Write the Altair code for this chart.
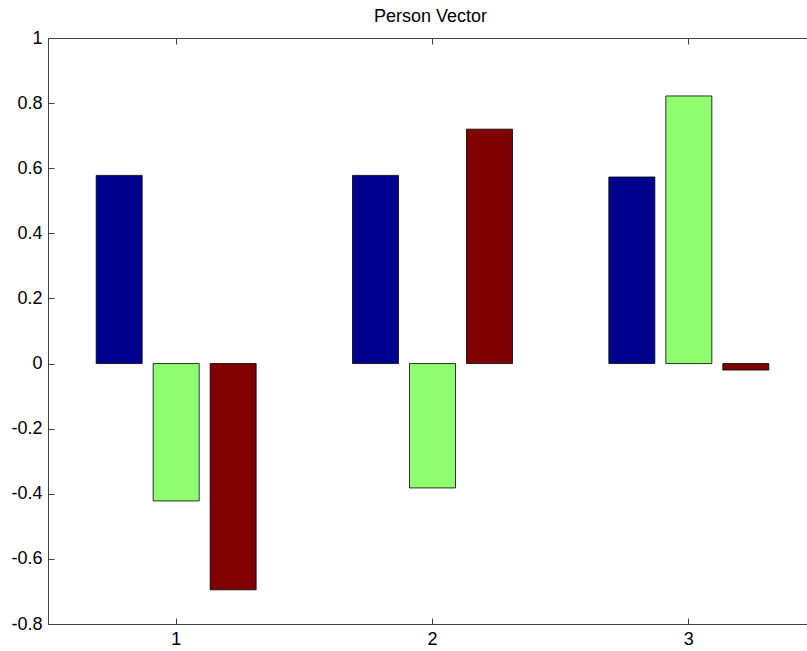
import altair as alt
import pandas as pd

groups = [1, 2, 3]
series = ["A", "B", "C"]
s1 = [0.578, 0.578, 0.573]
s2 = [-0.422, -0.382, 0.822]
s3 = [-0.695, 0.720, -0.020]
colors = ["#00008F", "#8FFF70", "#800000"]
yticks = [-0.8, -0.6, -0.4, -0.2, 0, 0.2, 0.4, 0.6, 0.8, 1]

rows = []
for i, g in enumerate(groups):
    for s, vals in zip(series, [s1, s2, s3]):
        rows.append({"group": g, "series": s, "value": vals[i]})
df = pd.DataFrame(rows)

font = "Liberation Sans"
# the plotted x range runs past the right edge of the picture, as in the original
xscale = alt.Scale(paddingInner=0.333, paddingOuter=0.1665, range=[0, 769])
yscale = alt.Scale(domain=[-0.8, 1], nice=False, zero=False)
line_col = "#404040"

base = alt.Chart(df)

bars = base.mark_bar(stroke="black", strokeWidth=0.8).encode(
    x=alt.X("group:O", scale=xscale,
            axis=alt.Axis(orient="bottom", title=None, labelAngle=0, ticks=False,
                          domain=True, domainColor=line_col, grid=False, labelPadding=6,
                          labelFontSize=18, labelFont=font, labelColor="black")),
    xOffset=alt.XOffset("series:N", sort=series,
                        scale=alt.Scale(paddingInner=0.193, paddingOuter=0.0965)),
    y=alt.Y("value:Q", scale=yscale,
            axis=alt.Axis(orient="left", title=None, values=yticks, ticks=False,
                          domain=True, domainColor=line_col, grid=False, labelPadding=6,
                          labelFontSize=18, labelFont=font, labelColor="black",
                          labelExpr="'' + datum.value")),
    y2=alt.datum(0),
    color=alt.Color("series:N", scale=alt.Scale(domain=series, range=colors), legend=None),
)

tick_axis = dict(title=None, labels=False, domain=False, grid=False, ticks=True,
                 tickSize=6, offset=-6, tickColor=line_col, tickWidth=1)

ticks_bl = base.mark_point(opacity=0).encode(
    x=alt.X("group:O", scale=xscale, axis=alt.Axis(orient="bottom", **tick_axis)),
    y=alt.Y("value:Q", scale=yscale, axis=alt.Axis(orient="left", values=yticks, **tick_axis)),
)
top_domain = base.mark_point(opacity=0).encode(
    x=alt.X("group:O", scale=xscale,
            axis=alt.Axis(orient="top", title=None, labels=False, ticks=False, grid=False,
                          domain=True, domainColor=line_col)),
    y=alt.Y("value:Q", scale=yscale, axis=None),
)
ticks_top = base.mark_point(opacity=0).encode(
    x=alt.X("group:O", scale=xscale, axis=alt.Axis(orient="top", **tick_axis)),
    y=alt.Y("value:Q", scale=yscale, axis=None),
)

chart = alt.layer(bars, ticks_bl, top_domain, ticks_top).resolve_axis(
    x="independent", y="independent"
).properties(
    width=759,
    height=586,
    title=alt.TitleParams("Person Vector", fontSize=18, font=font, fontWeight="normal",
                          offset=3, color="black", anchor="middle", frame="group", dx=3),
    autosize=alt.AutoSizeParams(type="none"),
    padding={"left": 48, "top": 38, "right": 0, "bottom": 27},
    background="white",
).configure_view(stroke=None)

chart.save("out.html", embed_options={"renderer": "svg", "actions": False})
